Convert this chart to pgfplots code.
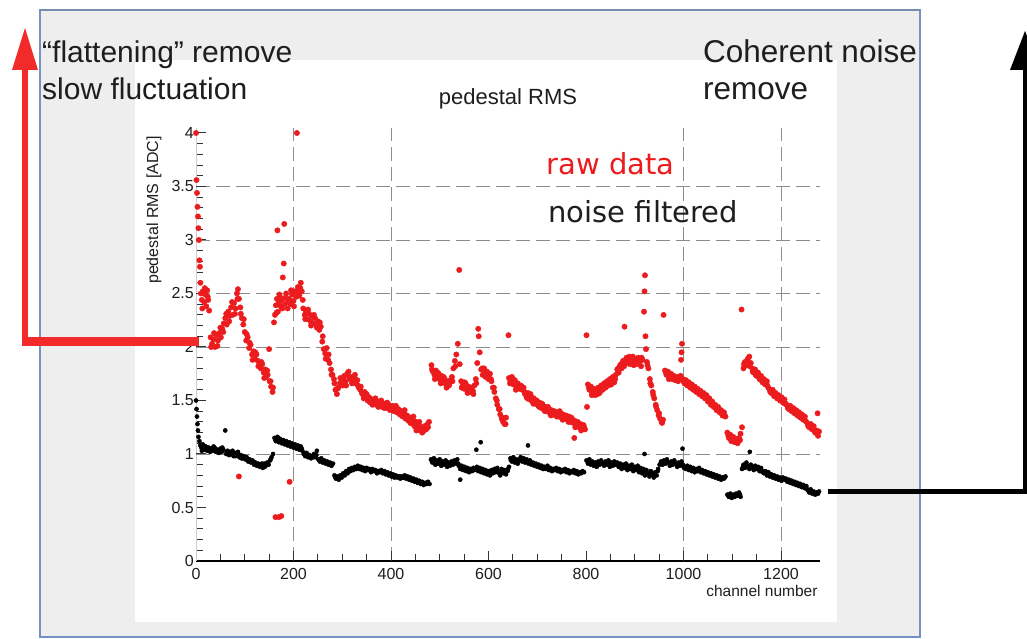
\documentclass[border=0pt]{standalone}
\usepackage{pgfplots}
\pgfplotsset{compat=1.18}
\usepackage{fontspec}
\setmainfont{Liberation Sans}
\newfontfamily\djv{DejaVu Sans}

\definecolor{rootred}{RGB}{236,28,30}
\definecolor{slidegray}{RGB}{238,238,238}
\definecolor{frameblue}{RGB}{118,146,196}
\definecolor{gridgray}{RGB}{140,140,140}
\definecolor{arrowred}{RGB}{242,42,42}
\definecolor{txt}{RGB}{30,30,30}

\begin{document}
\begin{tikzpicture}
% page = 1027 x 639 (1px = 1pt), y measured from bottom
\useasboundingbox (0pt,0pt) rectangle (1027pt,639pt);
\fill[white] (0pt,0pt) rectangle (1027pt,639pt);
\fill[slidegray] (40pt,2pt) rectangle (920pt,629pt);
\fill[white] (135pt,17pt) rectangle (837pt,579pt);
\draw[frameblue, line width=1.2pt] (40pt,2pt) rectangle (920pt,629pt);
\draw[frameblue!70!gray, line width=2.5pt] (40pt,629pt) -- (920pt,629pt);

\begin{axis}[
  at={(196pt,78pt)}, anchor=south west,
  scale only axis, width=624pt, height=433.35pt,
  xmin=0, xmax=1280, ymin=0, ymax=4.05,
  axis x line*=bottom, axis y line*=left,
  x axis line style={black, line width=1.2pt},
  y axis line style={gray!40, line width=0.4pt},
  tick align=inside,
  xtick={0,200,...,1200}, minor x tick num=3,
  ytick={0,0.5,...,4}, minor y tick num=4,
  major tick length=10pt, minor tick length=7pt,
  every tick/.style={black!80, line width=1pt},
  /pgf/number format/assume math mode=true,
  /pgf/number format/1000 sep={},
  tick label style={font=\fontsize{16}{16}\selectfont, text=txt},
  xticklabel style={inner sep=0pt, yshift=-7pt},
  yticklabel style={inner sep=0pt, xshift=-2pt},
  extra x ticks={200,400,1000,1200}, extra x tick labels={},
  extra y ticks={1,2,2.5,3,3.5}, extra y tick labels={},
  extra tick style={grid=major},
  major grid style={gridgray, line width=0.9pt, dash pattern=on 14pt off 6pt},
  clip=false,
]
% raw data
\addplot[only marks, color=rootred, mark=*, mark size=2.7pt, mark options={draw=none, fill=rootred}] coordinates {
(0,4.00) (1,3.56) (2,3.44) (3,3.31) (4,3.22) (5,3.11) (6,3.00) (7,2.81) (8,2.75) (9,2.60) (10,2.50)
(12,2.44) (14,2.52) (17,2.42) (19,2.49) (21,2.38) (23,2.53) (25,2.44) (27,2.34) (30,2.09) (33,2.03)
(36,2.07) (39,2.00) (42,2.11) (45,2.06) (48,2.13) (51,2.09) (54,2.17) (57,2.22) (60,2.27) (63,2.21)
(66,2.33) (69,2.29) (72,2.37) (75,2.30) (78,2.41) (81,2.36) (84,2.50) (86,2.54) (88,2.45) (88,0.79)
(91,2.37) (94,2.27) (97,2.21) (100,2.14) (103,2.06) (106,2.09) (109,1.99) (112,2.02) (115,1.93)
(118,1.96) (121,1.89) (124,1.93) (127,1.87) (130,1.85) (133,1.80) (136,1.84) (139,1.76) (142,1.79)
(144,1.72) (147,1.74) (150,1.98) (151,1.68) (154,1.63) (157,1.58) (160,2.23) (162,2.30) (163,0.41)
(164,2.39) (166,2.45) (167,3.09) (168,2.33) (170,2.41) (170,0.41) (172,2.47) (174,2.38) (175,0.42)
(176,2.44) (178,2.65) (180,2.78) (181,3.15) (182,2.40) (185,2.50) (188,2.36) (191,2.45) (192,0.74)
(194,2.40) (197,2.49) (200,2.43) (203,2.52) (206,2.47) (207,4.00) (209,2.56) (212,2.48) (215,2.60)
(217,2.52) (220,2.36) (223,2.30) (226,2.33) (229,2.26) (232,2.31) (235,2.24) (238,2.29) (241,2.22)
(244,2.27) (247,2.20) (250,2.24) (253,2.16) (256,2.19) (259,2.05) (262,1.98) (265,1.94) (268,1.99)
(271,1.88) (274,1.85) (277,1.79) (280,1.74) (283,1.70) (286,1.60) (289,1.56) (292,1.62) (295,1.66)
(298,1.70) (301,1.64) (304,1.73) (307,1.68) (310,1.75) (313,1.77) (316,1.70) (319,1.72) (322,1.67)
(325,1.71) (328,1.66) (331,1.69) (334,1.62) (337,1.60) (340,1.57) (343,1.55) (346,1.58) (349,1.53)
(352,1.50) (355,1.53) (358,1.48) (361,1.51) (364,1.47) (367,1.50) (370,1.46) (373,1.49) (376,1.45)
(379,1.48) (382,1.44) (385,1.47) (388,1.46) (391,1.43) (394,1.47) (397,1.44) (400,1.42) (403,1.45)
(406,1.40) (409,1.43) (412,1.39) (415,1.42) (418,1.37) (421,1.40) (424,1.35) (427,1.38) (430,1.33)
(433,1.36) (436,1.31) (439,1.34) (442,1.29) (445,1.32) (448,1.26) (451,1.30) (454,1.24) (457,1.27)
(460,1.22) (463,1.25) (466,1.21) (469,1.26) (472,1.23) (475,1.28) (478,1.30)
(483,1.83) (486,1.77) (489,1.74) (492,1.78) (495,1.71) (498,1.75) (501,1.69) (504,1.73) (507,1.67)
(510,1.70) (513,1.65) (516,1.68) (519,1.64) (522,1.69) (525,1.72) (528,1.80) (531,1.87) (534,1.93)
(537,2.03) (540,2.72) (541,1.84) (544,1.68) (547,1.64) (550,1.61) (553,1.66) (556,1.60) (559,1.63)
(562,1.58) (565,1.62) (568,1.59) (571,1.64) (574,1.70) (577,1.85) (579,2.17) (580,2.10) (582,1.95)
(585,1.79) (588,1.74) (591,1.80) (594,1.72) (597,1.77) (600,1.70) (603,1.75) (606,1.68) (609,1.62)
(612,1.58) (615,1.52) (618,1.46) (621,1.42) (624,1.37) (627,1.33) (630,1.30) (633,1.28) (636,1.34)
(641,2.11) (642,1.71) (645,1.68) (648,1.72) (651,1.65) (654,1.69) (657,1.63) (660,1.66) (663,1.61)
(666,1.64) (669,1.60) (672,1.62) (675,1.56) (678,1.53) (681,1.57) (684,1.51) (687,1.54) (690,1.49)
(693,1.52) (696,1.47) (699,1.50) (702,1.45) (705,1.48) (708,1.43) (711,1.46) (714,1.41) (717,1.44)
(720,1.40) (723,1.42) (726,1.38) (729,1.41) (732,1.37) (735,1.40) (738,1.36) (741,1.39) (744,1.35)
(747,1.38) (750,1.34) (753,1.37) (756,1.33) (759,1.36) (762,1.32) (765,1.35) (768,1.30) (771,1.33)
(774,1.29) (776,1.15) (777,1.31) (780,1.27) (783,1.30) (786,1.25) (789,1.28) (792,1.24) (795,1.27)
(798,1.23)
(801,2.11) (802,1.44) (804,1.65) (807,1.60) (810,1.63) (813,1.57) (816,1.61) (819,1.55) (822,1.59)
(825,1.62) (828,1.57) (831,1.64) (834,1.60) (837,1.66) (840,1.62) (843,1.68) (846,1.64) (849,1.70)
(852,1.65) (855,1.72) (858,1.67) (861,1.74) (864,1.79) (867,1.76) (870,1.83) (873,1.80) (876,1.87)
(879,2.19) (880,1.84) (883,1.90) (886,1.86) (889,1.91) (892,1.85) (895,1.89) (898,1.83) (901,1.88)
(904,1.84) (907,1.90) (910,1.86) (913,1.82) (916,1.88) (919,2.33) (920,2.52) (921,2.67) (922,2.10)
(923,1.98) (925,1.86) (928,1.80) (931,1.70) (934,1.64) (937,1.58) (940,1.52) (943,1.46) (946,1.41)
(949,1.36) (952,1.33) (955,1.30) (958,1.32) (959,2.30) (962,1.78) (965,1.74) (968,1.77) (971,1.72)
(974,1.75) (977,1.70) (980,1.73) (983,1.69) (986,1.72) (989,1.68) (992,1.71) (995,1.88) (996,1.95)
(997,2.03) (999,1.70) (1002,1.66) (1005,1.69) (1008,1.64) (1011,1.67) (1014,1.62) (1017,1.65)
(1020,1.60) (1023,1.63) (1026,1.58) (1029,1.61) (1032,1.56) (1035,1.59) (1038,1.54) (1041,1.57)
(1044,1.52) (1047,1.55) (1050,1.49) (1053,1.52) (1056,1.46) (1059,1.49) (1062,1.44) (1065,1.46)
(1068,1.41) (1071,1.44) (1074,1.39) (1077,1.41) (1080,1.36) (1083,1.39) (1086,1.35) (1090,1.20)
(1093,1.15) (1096,1.18) (1099,1.13) (1102,1.16) (1105,1.11) (1108,1.14) (1111,1.10) (1114,1.15)
(1117,1.19) (1119,2.35) (1120,1.25) (1123,1.80) (1126,1.86) (1129,1.83) (1132,1.89) (1135,1.91)
(1138,1.85) (1141,1.80) (1144,1.76) (1147,1.79) (1150,1.73) (1153,1.76) (1156,1.70) (1159,1.73)
(1162,1.67) (1165,1.70) (1168,1.65) (1171,1.68) (1174,1.62) (1177,1.60) (1180,1.57) (1183,1.60)
(1186,1.54) (1189,1.57) (1192,1.52) (1195,1.55) (1198,1.50) (1201,1.53) (1204,1.48) (1207,1.51)
(1210,1.47) (1213,1.45) (1216,1.42) (1219,1.45) (1222,1.40) (1225,1.43) (1228,1.38) (1231,1.41)
(1234,1.36) (1237,1.39) (1240,1.34) (1243,1.37) (1246,1.32) (1249,1.35) (1252,1.30) (1255,1.28)
(1258,1.25) (1261,1.28) (1264,1.23) (1267,1.26) (1270,1.20) (1273,1.22) (1275,1.38) (1276,1.17)
(1278,1.21)
(13,2.36) (18,2.55) (24,2.47) (31,2.00) (37,2.13) (44,2.01) (50,2.18) (56,2.14) (62,2.31) (68,2.24)
(74,2.42) (80,2.31) (85,2.45) (92,2.31) (98,2.26) (104,2.12) (110,2.04) (116,1.88) (122,1.95) (128,1.82)
(134,1.86) (140,1.71) (146,1.78) (153,1.68) (158,1.62) (165,2.32) (171,2.49) (177,2.36) (183,2.46)
(189,2.42) (195,2.53) (201,2.38) (208,2.52) (214,2.55) (219,2.44) (224,2.26) (230,2.35) (236,2.20)
(242,2.30) (248,2.18) (254,2.23) (260,2.10) (266,1.89) (272,1.93) (278,1.74) (284,1.66) (290,1.61)
(296,1.71) (302,1.69) (308,1.64) (314,1.72) (320,1.66) (326,1.74) (332,1.64) (338,1.63) (344,1.52)
(350,1.56) (356,1.49) (362,1.46) (368,1.52) (374,1.44) (380,1.50) (386,1.43) (392,1.48) (398,1.41)
(404,1.43) (410,1.45) (416,1.38) (422,1.36) (428,1.41) (434,1.33) (440,1.29) (446,1.35) (452,1.22)
(458,1.30) (464,1.20) (470,1.24) (476,1.25)
(484,1.79) (490,1.70) (496,1.76) (502,1.66) (508,1.72) (514,1.62) (520,1.66) (526,1.68) (532,1.82)
(545,1.62) (551,1.67) (557,1.57) (563,1.61) (569,1.56) (575,1.66) (587,1.80) (593,1.76) (599,1.73)
(605,1.70) (611,1.62) (617,1.50) (623,1.42) (629,1.34) (635,1.28) (644,1.66) (650,1.70) (656,1.60)
(662,1.64) (668,1.63) (674,1.58) (680,1.52) (686,1.56) (692,1.47) (698,1.49) (704,1.44) (710,1.47)
(716,1.40) (722,1.44) (728,1.36) (734,1.38) (740,1.35) (746,1.40) (752,1.32) (758,1.34) (764,1.30)
(770,1.34) (778,1.25) (784,1.28) (790,1.22) (796,1.25)
(806,1.62) (812,1.55) (818,1.60) (824,1.56) (830,1.60) (836,1.63) (842,1.64) (848,1.66) (854,1.69)
(860,1.70) (866,1.80) (872,1.84) (878,1.82) (884,1.88) (890,1.84) (896,1.91) (902,1.85) (908,1.87)
(914,1.90) (926,1.83) (932,1.66) (938,1.55) (944,1.44) (950,1.38) (956,1.29) (964,1.76) (970,1.70)
(976,1.74) (982,1.71) (988,1.70) (994,1.73) (1000,1.68) (1006,1.65) (1012,1.64) (1018,1.62)
(1024,1.60) (1030,1.58) (1036,1.56) (1042,1.54) (1048,1.52) (1054,1.49) (1060,1.46) (1066,1.43)
(1072,1.41) (1078,1.38) (1084,1.36) (1092,1.17) (1098,1.12) (1104,1.14) (1110,1.12) (1116,1.13)
(1124,1.84) (1130,1.87) (1136,1.82) (1142,1.77) (1148,1.74) (1154,1.72) (1160,1.69) (1166,1.66)
(1172,1.64) (1178,1.58) (1184,1.56) (1190,1.54) (1196,1.52) (1202,1.50) (1208,1.47) (1214,1.43)
(1220,1.41) (1226,1.39) (1232,1.37) (1238,1.35) (1244,1.33) (1250,1.31) (1256,1.26) (1262,1.24)
(1268,1.22) (1274,1.19)
};
% noise filtered
\addplot[only marks, color=black, mark=*, mark size=2.1pt, mark options={draw=none, fill=black}] coordinates {
(0,1.50) (1,1.42) (2,1.35) (3,1.28) (4,1.22) (5,1.16) (7,1.12) (9,1.08) (11,1.06) (14,1.09) (17,1.04)
(20,1.07) (23,1.03) (26,1.06) (29,1.02) (32,1.05) (35,1.03) (38,1.06) (41,1.02) (44,1.04) (47,1.01)
(50,1.05) (53,1.02) (56,1.04) (60,1.22) (62,1.00) (65,1.03) (68,0.99) (71,1.02) (74,1.00) (77,0.98)
(80,1.01) (83,0.99) (86,1.02) (89,0.97) (92,0.99) (95,0.96) (98,0.98) (101,0.95) (104,0.97) (107,0.93)
(110,0.95) (113,0.92) (116,0.94) (119,0.90) (122,0.92) (125,0.89) (128,0.91) (131,0.88) (134,0.90)
(137,0.87) (140,0.91) (143,0.89) (146,0.92) (149,0.90) (152,0.94) (155,0.97) (158,1.00) (161,1.15)
(164,1.12) (167,1.16) (170,1.11) (173,1.14) (176,1.10) (179,1.13) (182,1.09) (185,1.12) (188,1.08)
(191,1.11) (194,1.07) (197,1.10) (200,1.06) (203,1.09) (206,1.05) (209,1.08) (212,1.04) (215,1.07)
(218,1.03) (221,1.00) (224,0.98) (227,1.01) (230,0.97) (233,0.99) (236,0.96) (239,0.98) (242,1.00)
(245,0.97) (248,1.03) (251,0.95) (254,0.93) (257,0.96) (260,0.92) (263,0.94) (266,0.91) (269,0.93)
(272,0.90) (275,0.92) (278,0.89) (281,0.91) (284,0.80) (287,0.77) (290,0.79) (293,0.76) (296,0.80)
(299,0.78) (302,0.82) (305,0.80) (308,0.84) (311,0.82) (314,0.86) (317,0.84) (320,0.87) (323,0.85)
(326,0.88) (329,0.86) (332,0.89) (335,0.86) (338,0.88) (341,0.85) (344,0.87) (347,0.84) (350,0.87)
(353,0.85) (356,0.86) (359,0.83) (362,0.86) (365,0.84) (368,0.85) (371,0.82) (374,0.84) (377,0.83)
(380,0.85) (383,0.82) (386,0.84) (389,0.81) (392,0.83) (395,0.80) (398,0.82) (401,0.79) (404,0.81)
(407,0.78) (410,0.80) (413,0.78) (416,0.79) (419,0.77) (422,0.79) (425,0.78) (428,0.80) (431,0.77)
(434,0.79) (437,0.76) (440,0.78) (443,0.75) (446,0.77) (449,0.74) (452,0.76) (455,0.73) (458,0.75)
(461,0.72) (464,0.74) (467,0.71) (470,0.73) (473,0.72) (476,0.74) (479,0.72)
(482,0.95) (485,0.92) (488,0.96) (491,0.90) (494,0.94) (497,0.91) (500,0.95) (503,0.89) (506,0.93)
(509,0.90) (512,0.94) (515,0.88) (518,0.92) (521,0.89) (524,0.93) (527,0.90) (530,0.94) (533,0.91)
(536,0.95) (539,0.89) (542,0.86) (542,0.76) (545,0.89) (548,0.85) (551,0.88) (554,0.84) (557,0.87)
(560,0.83) (563,0.86) (566,0.84) (569,0.87) (572,0.85) (575,1.04) (576,0.88) (579,0.84) (582,0.87)
(584,1.11) (585,0.83) (588,0.86) (591,0.82) (594,0.85) (597,0.81) (600,0.84) (603,0.80) (606,0.85)
(609,0.82) (612,0.86) (615,0.83) (618,0.87) (621,0.84) (624,0.80) (627,0.86) (630,0.82) (633,0.85)
(636,0.81) (639,0.84) (642,0.88) (645,0.96) (648,0.93) (651,0.97) (654,0.92) (657,0.95) (660,0.91)
(663,0.94) (666,0.97) (669,0.93) (672,0.96) (675,0.92) (678,0.95) (681,1.08) (682,0.91) (685,0.94)
(688,0.90) (691,0.92) (694,0.89) (697,0.91) (700,0.88) (703,0.90) (706,0.87) (709,0.89) (712,0.86)
(715,0.88) (718,0.86) (721,0.89) (724,0.85) (727,0.87) (730,0.84) (733,0.86) (736,0.85) (739,0.87)
(742,0.84) (745,0.86) (748,0.83) (751,0.85) (754,0.84) (757,0.86) (760,0.83) (763,0.85) (766,0.82)
(769,0.84) (772,0.83) (775,0.85) (778,0.82) (781,0.84) (784,0.81) (787,0.83) (790,0.82) (793,0.84)
(796,0.83)
(801,0.94) (804,0.91) (807,0.95) (810,0.90) (813,0.93) (816,0.89) (819,0.92) (822,0.88) (825,0.93)
(828,0.90) (831,0.94) (834,0.91) (837,0.89) (840,0.93) (843,0.90) (846,0.94) (849,0.88) (852,0.92)
(855,0.89) (858,0.93) (861,0.90) (864,0.92) (867,0.88) (870,0.91) (873,0.86) (876,0.90) (879,0.87)
(882,0.91) (885,0.85) (888,0.89) (891,0.86) (894,0.90) (897,0.84) (900,0.88) (903,0.85) (906,0.89)
(909,0.83) (912,0.87) (915,0.82) (918,0.86) (920,1.00) (921,0.80) (924,0.85) (927,0.82) (930,0.79)
(933,0.84) (936,0.81) (939,0.78) (942,0.83) (945,0.80) (948,0.86) (951,0.90) (954,0.93) (957,0.90)
(960,0.94) (963,0.91) (966,0.95) (969,0.92) (972,0.89) (975,0.93) (978,0.90) (981,0.94) (984,0.91)
(987,0.88) (990,0.92) (993,0.89) (996,0.93) (998,1.05) (999,0.90) (1002,0.88) (1005,0.86) (1008,0.89)
(1011,0.85) (1014,0.88) (1017,0.84) (1020,0.87) (1023,0.83) (1026,0.86) (1029,0.84) (1032,0.87)
(1035,0.83) (1038,0.85) (1041,0.82) (1044,0.84) (1047,0.81) (1050,0.83) (1053,0.80) (1056,0.82)
(1059,0.79) (1062,0.81) (1065,0.78) (1068,0.80) (1071,0.77) (1074,0.79) (1077,0.76) (1080,0.78)
(1083,0.77) (1086,0.79) (1090,0.62) (1093,0.60) (1096,0.63) (1099,0.59) (1102,0.62) (1105,0.60)
(1108,0.63) (1111,0.61) (1114,0.64) (1117,0.60) (1120,0.86) (1123,0.90) (1126,0.87) (1129,0.92)
(1132,0.89) (1135,0.86) (1136,1.02) (1138,0.90) (1141,0.87) (1144,0.85) (1147,0.89) (1150,0.86)
(1153,0.88) (1156,0.84) (1159,0.87) (1162,0.83) (1165,0.82) (1168,0.84) (1171,0.80) (1174,0.83)
(1177,0.79) (1180,0.81) (1183,0.78) (1186,0.80) (1189,0.77) (1192,0.79) (1195,0.76) (1198,0.78)
(1201,0.75) (1204,0.78) (1207,0.76) (1210,0.77) (1213,0.74) (1216,0.76) (1219,0.73) (1222,0.75)
(1225,0.72) (1228,0.74) (1231,0.71) (1234,0.73) (1237,0.70) (1240,0.72) (1243,0.69) (1246,0.71)
(1249,0.68) (1252,0.70) (1255,0.66) (1258,0.64) (1261,0.67) (1264,0.63) (1267,0.65) (1270,0.62)
(1273,0.64) (1276,0.63) (1278,0.65)
(12,1.03) (18,1.07) (24,1.05) (30,1.04) (36,1.07) (42,1.04) (48,1.03) (54,1.06) (63,1.02) (69,1.01)
(75,1.03) (81,0.98) (87,1.00) (93,0.96) (99,0.97) (105,0.95) (111,0.93) (117,0.92) (123,0.90)
(129,0.89) (135,0.91) (141,0.88) (147,0.91) (153,0.95) (163,1.13) (169,1.15) (175,1.12) (181,1.11)
(187,1.10) (193,1.09) (199,1.08) (205,1.07) (211,1.06) (217,1.05) (223,1.01) (229,0.99) (235,0.98)
(241,0.97) (247,0.99) (253,0.94) (259,0.93) (265,0.93) (271,0.91) (277,0.91) (286,0.78) (292,0.78)
(298,0.80) (304,0.81) (310,0.84) (316,0.85) (322,0.86) (328,0.87) (334,0.87) (340,0.87) (346,0.86)
(352,0.86) (358,0.85) (364,0.85) (370,0.84) (376,0.84) (382,0.83) (388,0.83) (394,0.81) (400,0.81)
(406,0.80) (412,0.79) (418,0.79) (424,0.78) (430,0.78) (436,0.78) (442,0.76) (448,0.76) (454,0.75)
(460,0.74) (466,0.73) (472,0.73)
(484,0.93) (490,0.94) (496,0.93) (502,0.92) (508,0.91) (514,0.92) (520,0.91) (526,0.92) (532,0.92)
(538,0.91) (544,0.87) (550,0.86) (556,0.86) (562,0.85) (568,0.85) (574,0.86) (580,0.86) (586,0.85)
(592,0.84) (598,0.83) (604,0.83) (610,0.84) (616,0.85) (622,0.82) (628,0.84) (634,0.83) (640,0.86)
(646,0.94) (652,0.95) (658,0.93) (664,0.95) (670,0.95) (676,0.94) (684,0.92) (690,0.91) (696,0.90)
(702,0.89) (708,0.88) (714,0.87) (720,0.87) (726,0.86) (732,0.85) (738,0.86) (744,0.85) (750,0.84)
(756,0.85) (762,0.84) (768,0.83) (774,0.84) (780,0.83) (786,0.82) (792,0.83)
(803,0.93) (809,0.92) (815,0.91) (821,0.90) (827,0.92) (833,0.92) (839,0.91) (845,0.92) (851,0.90)
(857,0.91) (863,0.91) (869,0.89) (875,0.88) (881,0.89) (887,0.87) (893,0.88) (899,0.86) (905,0.87)
(911,0.85) (917,0.84) (923,0.83) (929,0.81) (935,0.82) (941,0.80) (947,0.84) (953,0.91) (959,0.92)
(965,0.93) (971,0.91) (977,0.92) (983,0.92) (989,0.90) (995,0.91) (1001,0.87) (1007,0.87) (1013,0.86)
(1019,0.85) (1025,0.85) (1031,0.85) (1037,0.84) (1043,0.83) (1049,0.82) (1055,0.81) (1061,0.80)
(1067,0.79) (1073,0.78) (1079,0.77) (1085,0.78) (1092,0.61) (1098,0.61) (1104,0.61) (1110,0.62)
(1116,0.62) (1122,0.88) (1128,0.89) (1134,0.88) (1140,0.88) (1146,0.87) (1152,0.87) (1158,0.85)
(1164,0.84) (1170,0.82) (1176,0.81) (1182,0.80) (1188,0.78) (1194,0.78) (1200,0.77) (1206,0.77)
(1212,0.75) (1218,0.75) (1224,0.73) (1230,0.73) (1236,0.71) (1242,0.70) (1248,0.70) (1254,0.67)
(1260,0.65) (1266,0.64) (1272,0.63)
};
\end{axis}

% chart texts
\node[anchor=base, font=\fontsize{22}{22}\selectfont, text=txt] at (508pt,534pt) {pedestal RMS};
\node[anchor=base west, font=\djv\fontsize{29}{29}\selectfont, text=rootred] at (543pt,464pt) {raw data};
\node[anchor=base west, font=\djv\fontsize{29}{29}\selectfont, text=txt] at (545pt,416pt) {noise filtered};
\node[rotate=90, font=\fontsize{16}{16}\selectfont, text=txt] at (154pt,429pt) {pedestal RMS [ADC]};
\node[anchor=base east, font=\fontsize{15.5}{15.5}\selectfont, text=txt] at (821pt,42pt) {channel number};

% slide texts
\node[anchor=base west, inner sep=0pt, font=\fontsize{30}{30}\selectfont, text=txt] at (42pt,576pt) {“flattening” remove};
\node[anchor=base west, inner sep=0pt, font=\fontsize{30}{30}\selectfont, text=txt] at (42pt,539pt) {slow fluctuation};
\node[anchor=base west, inner sep=0pt, font=\fontsize{31.5}{31.5}\selectfont, text=txt] at (703pt,576pt) {Coherent noise};
\node[anchor=base west, inner sep=0pt, font=\fontsize{31.5}{31.5}\selectfont, text=txt] at (703pt,539pt) {remove};

% arrows
\draw[arrowred, line width=9pt] (22pt,297pt) -- (199pt,297pt);
\draw[arrowred, line width=6pt] (25pt,301pt) -- (25pt,572pt);
\fill[arrowred] (12pt,569pt) -- (38pt,569pt) -- (25pt,611pt) -- cycle;
\draw[black, line width=5pt] (828pt,147pt) -- (1026pt,147pt);
\draw[black, line width=5pt] (1025pt,145pt) -- (1025pt,572pt);
\fill[black] (1010pt,569pt) -- (1040pt,569pt) -- (1025pt,608pt) -- cycle;
\end{tikzpicture}
\end{document}
